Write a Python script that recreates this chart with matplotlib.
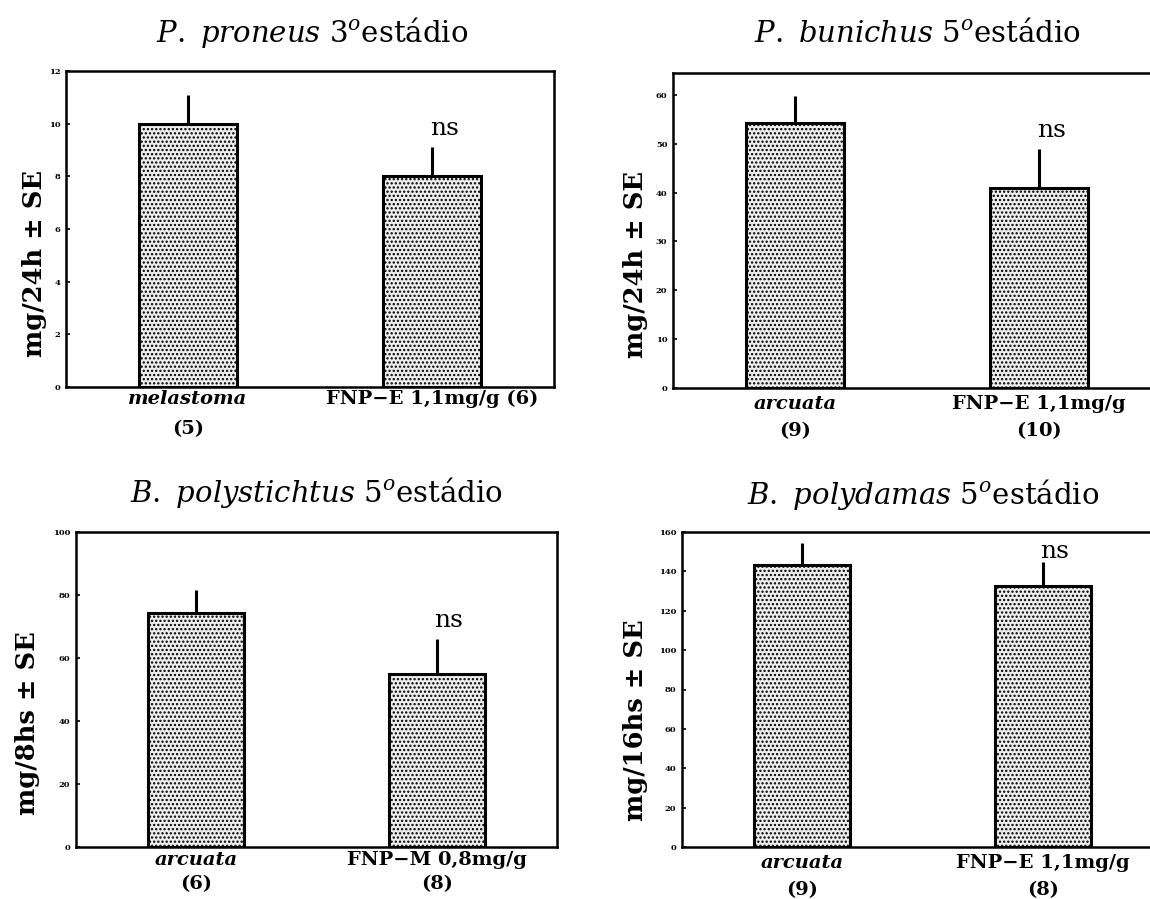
import matplotlib
matplotlib.use("Agg")
import matplotlib.pyplot as plt
import matplotlib.transforms as mtransforms
import numpy as np

plt.rcParams['font.family'] = ['DejaVu Serif']
plt.rcParams['mathtext.fontset'] = 'dejavuserif'
plt.rcParams['hatch.color'] = '#2a2a2a'
plt.rcParams['hatch.linewidth'] = 1.1

# ---- data ----
titles = [r"$\mathit{P.\ proneus}$ 3$^{o}$estádio",
          r"$\mathit{P.\ bunichus}$ 5$^{o}$estádio",
          r"$\mathit{B.\ polystichtus}$ 5$^{o}$estádio",
          r"$\mathit{B.\ polydamas}$ 5$^{o}$estádio"]
ylabels = ["mg/24h ± SE", "mg/24h ± SE", "mg/8hs ± SE", "mg/16hs ± SE"]
control_names = ["melastoma", "arcuata", "arcuata", "arcuata"]
treat_names = ["FNP−E 1,1mg/g (6)", "FNP−E 1,1mg/g", "FNP−M 0,8mg/g", "FNP−E 1,1mg/g"]
control_n = ["(5)", "(9)", "(6)", "(9)"]
treat_n = ["", "(10)", "(8)", "(8)"]
means_p1 = [10.0, 8.0]
err_p1 = [1.1, 1.1]
means_p2 = [54.3, 41.0]
err_p2 = [5.5, 7.9]
means_p3 = [74.3, 54.8]
err_p3 = [7.2, 11.3]
means_p4 = [143.4, 132.5]
err_p4 = [11.0, 12.3]
ymax = [12, 64.5, 100, 160]
ysteps = [2, 10, 20, 20]
ns_y = [9.8, 52.8, 72, 150]

means = [means_p1, means_p2, means_p3, means_p4]
errs = [err_p1, err_p2, err_p3, err_p4]

fig = plt.figure(figsize=(11.5, 8.99), dpi=100)
W, H = 1150, 899
# layout in pixels
boxes = [(66, 71, 554, 387), (673, 73, 1161, 388),
         (76, 532, 557, 847), (682, 532, 1163, 847)]
title_pos = [(312, 33), (917, 33), (316, 493), (923, 495)]
ylab_pos = [(35, 263), (635, 264), (28, 723), (635, 720)]
lab_y1 = [399, 404, 860, 863]
lab_y2 = [429, 431, 884, 890]

for i in range(4):
    l, t, r, b = boxes[i]
    ax = fig.add_axes([l / W, 1 - b / H, (r - l) / W, (b - t) / H])
    x = np.arange(2)
    ax.bar(x, means[i], width=0.4, facecolor='#eeeeee', edgecolor='black',
           linewidth=2.2, hatch='....', zorder=2)
    ax.errorbar(x, means[i], yerr=[[0, 0], errs[i]], fmt='none',
                ecolor='black', elinewidth=2.2, capsize=0, zorder=1)
    ax.set_xlim(-0.5, 1.5)
    ax.set_ylim(0, ymax[i])
    ax.set_yticks(np.arange(0, ymax[i] + 0.01, ysteps[i]))
    ax.tick_params(axis='y', direction='in', length=3, width=1.2,
                   labelsize=6, pad=4)
    for lab in ax.get_yticklabels():
        lab.set_fontweight('bold')
    ax.set_xticks([])
    for s in ax.spines.values():
        s.set_linewidth(1.8)
    # category labels
    tr = mtransforms.blended_transform_factory(ax.transData, fig.transFigure)
    ax.text(0, 1 - lab_y1[i] / H, control_names[i], transform=tr, ha='center',
            va='center', fontsize=14, fontweight='bold', style='italic')
    ax.text(0, 1 - lab_y2[i] / H, control_n[i], transform=tr, ha='center',
            va='center', fontsize=14, fontweight='bold')
    ax.text(1, 1 - lab_y1[i] / H, treat_names[i], transform=tr, ha='center',
            va='center', fontsize=14, fontweight='bold')
    if treat_n[i]:
        ax.text(1, 1 - lab_y2[i] / H, treat_n[i], transform=tr, ha='center',
                va='center', fontsize=14, fontweight='bold')
    ax.text(1.05, ns_y[i], "ns", ha='center', va='center', fontsize=18)
    yx, yy = ylab_pos[i]
    fig.text(yx / W, 1 - yy / H, ylabels[i], rotation=90, ha='center',
             va='center', fontsize=18.5, fontweight='bold')
    tx, ty = title_pos[i]
    fig.text(tx / W, 1 - ty / H, titles[i], ha='center', va='center',
             fontsize=21)

fig.savefig("out.png", dpi=100)
